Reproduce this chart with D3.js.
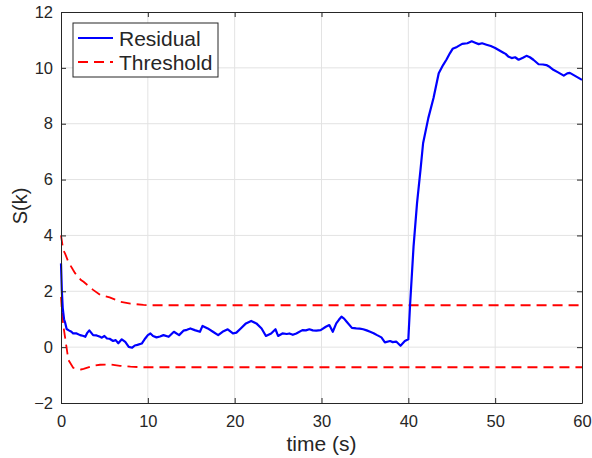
<!DOCTYPE html>
<html>
<head>
<meta charset="utf-8">
<style>
  body { margin: 0; background: #fff; }
  text { font-family: "Liberation Sans", Arial, sans-serif; fill: #262626; }
</style>
</head>
<body>
<svg id="chart" width="592" height="458"></svg>
<script src="https://cdn.jsdelivr.net/npm/d3@7"></script>
<script>
// residual S(k)
let resTime = [0, 0.1, 0.2, 0.35, 0.5, 0.65, 0.9, 1.2, 1.4, 1.8, 2.2, 2.6, 2.8, 3.0, 3.26, 3.7, 4.1, 4.5, 4.7, 5.0, 5.3, 5.6, 6.0, 6.3, 6.6, 7.0, 7.4, 7.8, 8.2, 8.5, 8.8, 9.3, 9.7, 10.0, 10.3, 10.6, 11.0, 11.4, 11.8, 12.4, 13.0, 13.6, 14.1, 14.5, 14.9, 15.4, 16.0, 16.3, 16.9, 17.5, 18.1, 18.6, 19.2, 19.8, 20.2, 20.7, 21.3, 21.9, 22.5, 23.1, 23.6, 24.2, 24.7, 25.0, 25.5, 26.0, 26.3, 26.7, 27.1, 27.8, 28.2, 28.6, 29.0, 29.4, 29.9, 30.5, 30.9, 31.3, 31.7, 32.0, 32.3, 32.6, 32.9, 33.5, 34.0, 34.4, 34.8, 35.2, 35.6, 36.0, 36.4, 36.9, 37.3, 37.9, 38.2, 38.6, 39.1, 39.6, 40.0, 40.2, 40.6, 41.0, 41.4, 41.7, 42.3, 42.9, 43.5, 44.0, 44.4, 44.8, 45.1, 45.6, 46.2, 46.8, 47.3, 47.7, 48.1, 48.5, 49.0, 49.5, 50.0, 50.5, 50.9, 51.2, 51.5, 51.9, 52.3, 52.7, 53.2, 53.6, 54.0, 54.4, 55.0, 55.5, 55.9, 56.3, 56.7, 57.3, 57.9, 58.3, 58.6, 59.0, 59.5, 60];
let resValue = [3.0, 2.0, 1.4, 1.0, 0.85, 0.65, 0.6, 0.55, 0.49, 0.49, 0.43, 0.4, 0.37, 0.5, 0.6, 0.43, 0.42, 0.37, 0.34, 0.4, 0.31, 0.3, 0.22, 0.25, 0.14, 0.28, 0.19, 0.01, -0.02, 0.06, 0.08, 0.13, 0.31, 0.43, 0.49, 0.4, 0.35, 0.38, 0.43, 0.37, 0.55, 0.43, 0.59, 0.62, 0.67, 0.61, 0.55, 0.76, 0.67, 0.55, 0.43, 0.55, 0.64, 0.49, 0.52, 0.67, 0.85, 0.94, 0.85, 0.67, 0.4, 0.49, 0.64, 0.4, 0.49, 0.47, 0.49, 0.44, 0.49, 0.61, 0.6, 0.64, 0.6, 0.59, 0.61, 0.73, 0.79, 0.55, 0.85, 0.98, 1.09, 1.02, 0.91, 0.69, 0.67, 0.66, 0.64, 0.6, 0.55, 0.5, 0.43, 0.35, 0.17, 0.22, 0.18, 0.2, 0.05, 0.22, 0.28, 1.51, 3.6, 5.15, 6.35, 7.3, 8.2, 8.92, 9.81, 10.1, 10.3, 10.53, 10.68, 10.75, 10.86, 10.88, 10.95, 10.9, 10.85, 10.88, 10.83, 10.78, 10.71, 10.62, 10.55, 10.5, 10.41, 10.35, 10.38, 10.29, 10.36, 10.43, 10.38, 10.29, 10.13, 10.12, 10.1, 10.03, 9.93, 9.83, 9.72, 9.8, 9.82, 9.75, 9.66, 9.57];

// upper and lower threshold
let thrTime = [0, 0.15, 0.3, 0.46, 0.85, 1.4, 1.6, 2.3, 2.6, 3.7, 4.5, 5.6, 6.8, 8.0, 9.5, 10.5, 60];
let thrUpper = [4.0, 3.7, 3.45, 3.36, 3.05, 2.76, 2.66, 2.4, 2.34, 2.05, 1.87, 1.78, 1.63, 1.56, 1.51, 1.5, 1.5];
let thrLower = [1.8, 1.1, 0.7, 0.37, -0.46, -0.74, -0.76, -0.8, -0.78, -0.67, -0.63, -0.62, -0.67, -0.7, -0.72, -0.72, -0.72];

let xTicks = [0, 10, 20, 30, 40, 50, 60];
let yTicks = [-2, 0, 2, 4, 6, 8, 10, 12];

let svg = d3.select("#chart");
let marginLeft = 61, marginTop = 12, plotW = 521, plotH = 391;
let body = svg.append("g").attr("transform", "translate(" + marginLeft + "," + marginTop + ")");

let xScale = d3.scaleLinear().domain([0, 60]).range([0, plotW]);
let yScale = d3.scaleLinear().domain([-2, 12]).range([plotH, 0]);

// grid
body.append("g").selectAll("line").data(xTicks.slice(1, -1)).join("line")
    .attr("x1", d => xScale(d)).attr("x2", d => xScale(d))
    .attr("y1", 0).attr("y2", plotH)
    .attr("stroke", "#e3e3e3").attr("stroke-width", 1);
body.append("g").selectAll("line").data(yTicks.slice(1, -1)).join("line")
    .attr("y1", d => yScale(d)).attr("y2", d => yScale(d))
    .attr("x1", 0).attr("x2", plotW)
    .attr("stroke", "#e3e3e3").attr("stroke-width", 1);

// lines
let thrLine = values => d3.line()
    .x((d, i) => xScale(thrTime[i]))
    .y(d => yScale(d))(values);

body.append("path").attr("d", thrLine(thrUpper))
    .attr("fill", "none").attr("stroke", "#ff0000").attr("stroke-width", 1.8)
    .attr("stroke-dasharray", "10,6");
body.append("path").attr("d", thrLine(thrLower))
    .attr("fill", "none").attr("stroke", "#ff0000").attr("stroke-width", 1.8)
    .attr("stroke-dasharray", "10,6");

let resLine = d3.line()
    .x((d, i) => xScale(resTime[i]))
    .y(d => yScale(d));
body.append("path").attr("d", resLine(resValue))
    .attr("fill", "none").attr("stroke", "#0000ff").attr("stroke-width", 2.2)
    .attr("stroke-linejoin", "round");

// axes (ticks inward, all four sides)
function styleAxis(g) {
    g.select(".domain").attr("stroke", "#262626");
    g.selectAll(".tick line").attr("stroke", "#262626");
    g.selectAll(".tick text").attr("fill", "#262626")
        .style("font-family", "'Liberation Sans', Arial, sans-serif").style("font-size", "16.5px");
}
body.append("g").attr("transform", "translate(0," + plotH + ")")
    .call(d3.axisBottom(xScale).tickValues(xTicks).tickSizeInner(-5).tickSizeOuter(0).tickPadding(12))
    .call(styleAxis);
body.append("g")
    .call(d3.axisLeft(yScale).tickValues(yTicks).tickSizeInner(-5).tickSizeOuter(0).tickPadding(8))
    .call(styleAxis);
body.append("g")
    .call(d3.axisTop(xScale).tickValues(xTicks).tickSizeInner(-5).tickSizeOuter(0).tickFormat(""))
    .call(styleAxis);
body.append("g").attr("transform", "translate(" + plotW + ",0)")
    .call(d3.axisRight(yScale).tickValues(yTicks).tickSizeInner(-5).tickSizeOuter(0).tickFormat(""))
    .call(styleAxis);

// axis labels
svg.append("text").attr("x", marginLeft + plotW / 2).attr("y", 451)
    .attr("text-anchor", "middle").style("font-size", "21px").text("time (s)");
svg.append("text").attr("transform", "translate(27,206) rotate(-90)")
    .attr("text-anchor", "middle").style("font-size", "20px").text("S(k)");

// legend
let legend = svg.append("g").attr("transform", "translate(73,23)");
legend.append("rect").attr("width", 145).attr("height", 54)
    .attr("fill", "#fff").attr("stroke", "#262626").attr("stroke-width", 1);
let entries = [["Residual", "#0000ff", null], ["Threshold", "#ff0000", "10,6"]];
entries.forEach((e, i) => {
    let y = 15 + i * 24;
    legend.append("line").attr("x1", 5).attr("x2", 40).attr("y1", y).attr("y2", y)
        .attr("stroke", e[1]).attr("stroke-width", e[2] ? 1.8 : 2)
        .attr("stroke-dasharray", e[2]);
    legend.append("text").attr("x", 46).attr("y", y + 8)
        .style("font-size", "21px").text(e[0]);
});
</script>
</body>
</html>
